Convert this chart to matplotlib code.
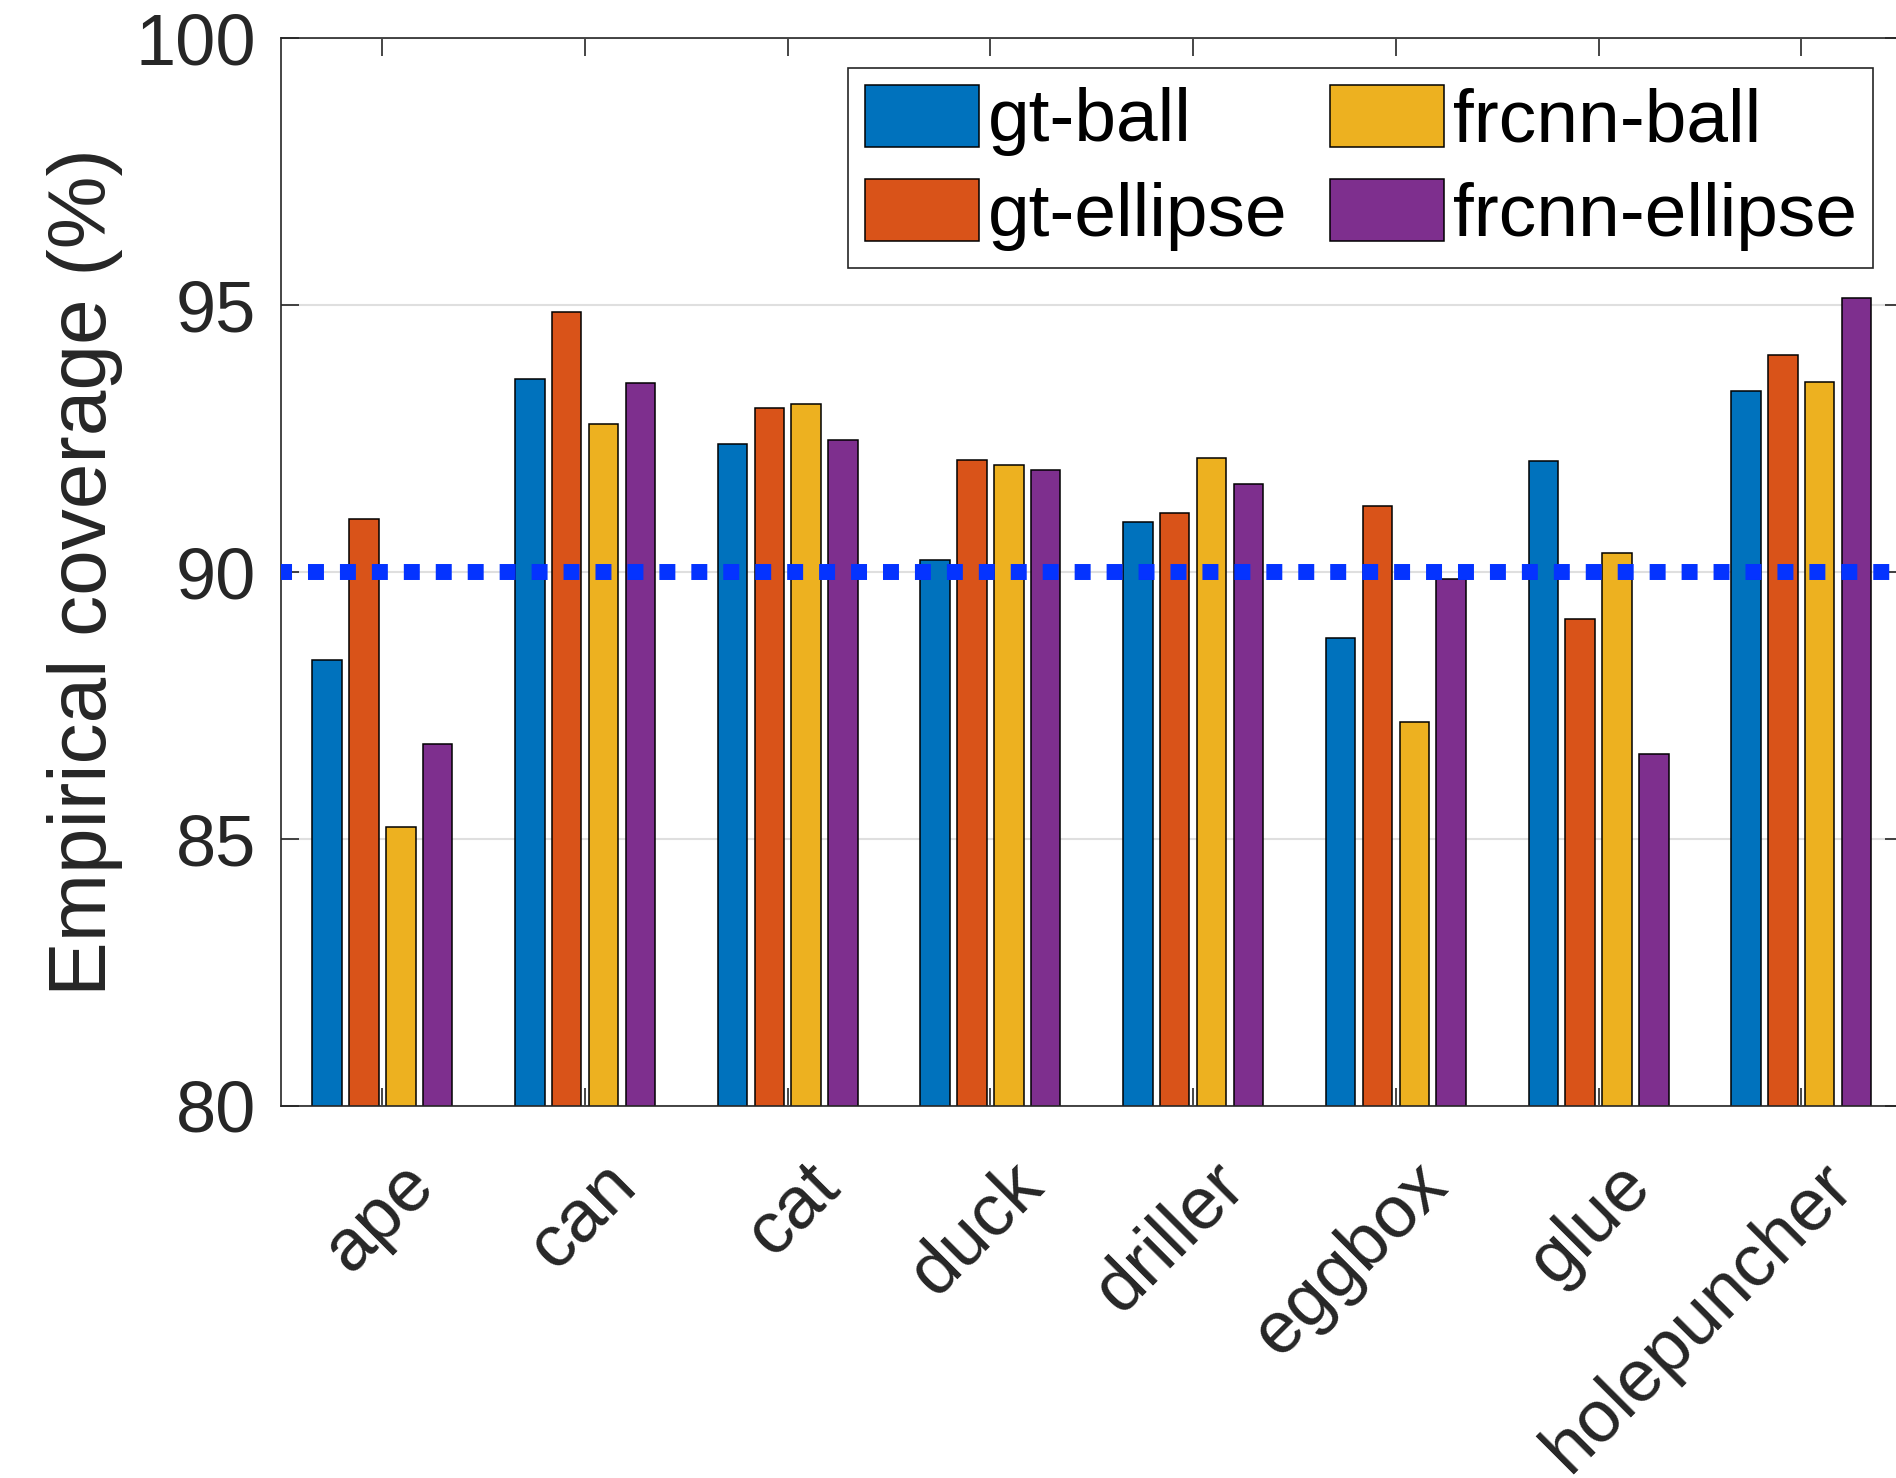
import numpy as np
import matplotlib
matplotlib.use("Agg")
import matplotlib.pyplot as plt
from matplotlib.transforms import ScaledTranslation

plt.rcParams['font.family'] = ['Liberation Sans', 'DejaVu Sans']

objects = ["ape", "can", "cat", "duck", "driller", "eggbox", "glue", "holepuncher"]
series = ["gt-ball", "gt-ellipse", "frcnn-ball", "frcnn-ellipse"]
gt_ball = [88.35, 93.62, 92.40, 90.22, 90.94, 88.77, 92.09, 93.39]
gt_ellipse = [91.00, 94.87, 93.07, 92.10, 91.10, 91.24, 89.12, 94.07]
frcnn_ball = [85.23, 92.77, 93.15, 92.01, 92.14, 87.20, 90.35, 93.57]
frcnn_ellipse = [86.78, 93.54, 92.47, 91.91, 91.65, 89.88, 86.59, 95.13]
target = 90
colors = ["#0072BD", "#D95319", "#EDB120", "#7E2F8E"]

axis_color = "#262626"
fig = plt.figure(figsize=(18.96, 14.78), dpi=100)
ax = fig.add_axes([0.1482, 0.2517, 0.8553, 0.7224])

# grouped bars, matlab-style spacing
x = np.arange(1, len(objects) + 1)
n = len(series)
group_w = min(0.8, n / (n + 1.5))
step = group_w / n
bar_w = 0.8 * step
for i, (vals, lab, col) in enumerate(zip([gt_ball, gt_ellipse, frcnn_ball, frcnn_ellipse], series, colors)):
    offs = (i - (n - 1) / 2) * step
    ax.bar(x + offs, vals, width=bar_w, color=col, edgecolor="black",
           linewidth=1.1, label=lab, zorder=2)

# target coverage, square dots
ax.axhline(target, color="#0433FF", linewidth=11.5, linestyle=(0.31, (1, 1)),
           dash_capstyle="butt", zorder=3)

ax.set_xlim(0.5, len(objects) + 0.5)
ax.set_ylim(80, 100)
ax.set_yticks([80, 85, 90, 95, 100])
ax.set_xticks(x)
ax.set_xticklabels(objects, rotation=45, ha="right", va="center",
                   rotation_mode="anchor", fontsize=53)
ax.set_axisbelow(True)
ax.yaxis.grid(True, color="#dfdfdf", linewidth=1.5)

ax.tick_params(axis="both", which="major", direction="in", length=13, width=1.2,
               colors=axis_color, top=True, right=True)
ax.tick_params(axis="y", pad=18, labelsize=52)
ax.tick_params(axis="x", pad=0)
shift = ScaledTranslation(0.41, -0.68, fig.dpi_scale_trans)
for lbl in ax.get_xticklabels():
    lbl.set_transform(lbl.get_transform() + shift)

for sp in ax.spines.values():
    sp.set_color(axis_color)
    sp.set_linewidth(1.2)

ax.set_ylabel("Empirical coverage (%)", fontsize=59, color=axis_color, labelpad=9)

leg = ax.legend(ncol=2, loc="upper right", bbox_to_anchor=(1873 / 1896, 1 - 68 / 1478),
                bbox_transform=fig.transFigure, borderaxespad=0, fontsize=54,
                fancybox=False, edgecolor=axis_color, framealpha=1,
                handlelength=1.52, handleheight=0.9, handletextpad=0.12,
                columnspacing=0.56, labelspacing=0.3, borderpad=0.22)
leg.get_frame().set_linewidth(1.2)

fig.savefig("out.png", dpi=100)
